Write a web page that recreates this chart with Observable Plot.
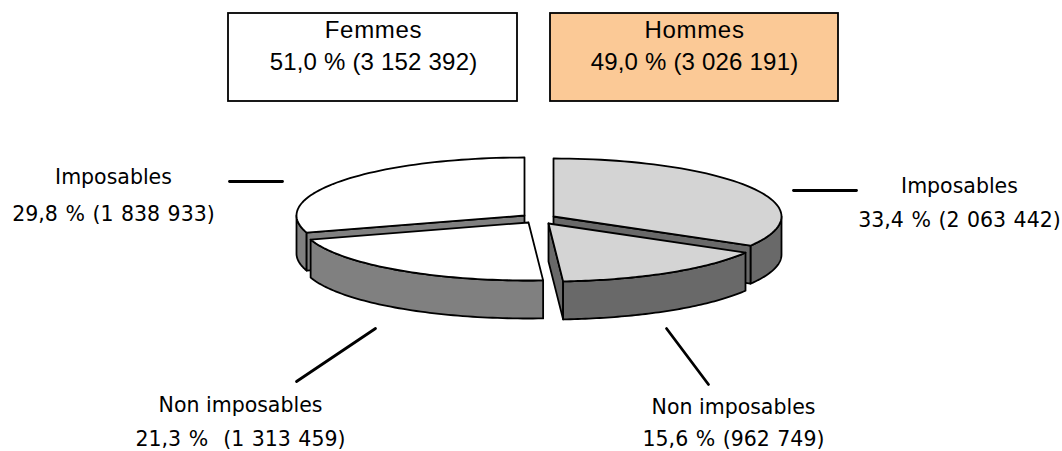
<!DOCTYPE html>
<html><head><meta charset="utf-8">
<script src="https://cdn.jsdelivr.net/npm/d3@7"></script>
<script src="https://cdn.jsdelivr.net/npm/@observablehq/plot@0.6"></script>
<style>html,body{margin:0;padding:0;background:#fff}svg{display:block}
.box-title{letter-spacing:.7px}
.box-value{letter-spacing:.2px}
.label-value{word-spacing:1px}
</style>
</head><body><div id="chart"></div>
<script>
// Data
const sliceNames = ["Hommes imposables","Hommes non imposables","Femmes non imposables","Femmes imposables"];
const sliceCounts = [2063442, 962749, 1313459, 1838933];
const boxTitles = ["Femmes","Hommes"];
const boxValues = ["51,0 % (3 152 392)","49,0 % (3 026 191)"];
const labelNames = ["Imposables","Imposables","Non imposables","Non imposables"];
const labelValues = ["33,4 % (2 063 442)","29,8 % (1 838 933)","21,3 %  (1 313 459)","15,6 % (962 749)"];

// Layout
const rx = 228, ry = 58, depth = 38;
const centers = [[553,216],[548,223],[528,222],[524,215]];
const topColors = ["#d4d4d4","#d4d4d4","#ffffff","#ffffff"];
const wallColors = ["#696969","#696969","#808080","#808080"];
const boxRects = [[228,13,517,101,"#ffffff"],[550,13,838,101,"#fbc996"]];
const boxTextX = [373,694], boxTextY = [30,62];
const labelPos = [[959,186,220],[113,177,214],[240,405,439],[733,407,439]];
const leaders = [[793,190,856,190],[229,181,282,181],[296,381,375,328],[708,384,666,328]];

// Slice geometry from the values
const total = d3.sum(sliceCounts);
const cum = d3.cumsum(sliceCounts);
const angles = sliceCounts.map((_, i) => [(i ? cum[i-1] : 0)/total*2*Math.PI, cum[i]/total*2*Math.PI]);
const pt = (c, a, dz=0) => ({x: c[0] + rx*Math.sin(a), y: c[1] - ry*Math.cos(a) + dz});
const arc = (c, a0, a1, dz=0) => d3.range(0, 61).map(k => pt(c, a0 + (a1-a0)*k/60, dz));
const apex = (c, dz=0) => ({x:c[0], y:c[1]+dz});
const closed = p => [...p, p[0]];
const topFace = i => closed([apex(centers[i]), ...arc(centers[i], ...angles[i])]);
const outerWall = (i, a0, a1) => closed([...arc(centers[i], a0, a1), ...arc(centers[i], a1, a0, depth)]);
const cutFace = (i, a) => closed([apex(centers[i]), pt(centers[i], a), pt(centers[i], a, depth), apex(centers[i], depth)]);

const poly = (data, fill) => Plot.line(data, {x:"x", y:"y", fill, stroke:"#000", strokeWidth:1.8, strokeLinejoin:"round", curve:"linear"});
const PI = Math.PI;
const sliceMarks = [
  // Hommes imposables
  poly(outerWall(0, PI/2, angles[0][1]), wallColors[0]),
  poly(cutFace(0, angles[0][1]), wallColors[0]),
  poly(topFace(0), topColors[0]),
  // Hommes non imposables
  poly(cutFace(1, angles[1][1]), wallColors[1]),
  poly(outerWall(1, angles[1][0], angles[1][1]), wallColors[1]),
  poly(topFace(1), topColors[1]),
  // Femmes imposables
  poly(outerWall(3, angles[3][0], 1.5*PI), wallColors[3]),
  poly(cutFace(3, angles[3][0]), wallColors[3]),
  poly(topFace(3), topColors[3]),
  // Femmes non imposables
  poly(outerWall(2, angles[2][0], angles[2][1]), wallColors[2]),
  poly(topFace(2), topColors[2])
];

const boxFont = {fontFamily:"Liberation Sans, Arial, sans-serif", fontSize:24, fill:"#000", textAnchor:"middle", lineAnchor:"middle"};
const labelFont = {fontFamily:"DejaVu Sans, Verdana, sans-serif", fontSize:20.5, fill:"#000", textAnchor:"middle", lineAnchor:"middle"};

const chart = Plot.plot({
  width:1062, height:451, margin:0,
  x:{domain:[0,1062], range:[0,1062], axis:null},
  y:{domain:[0,451], range:[0,451], axis:null},
  style:{background:"#fff"},
  marks:[
    Plot.rect(boxRects, {x1:d=>d[0], y1:d=>d[1], x2:d=>d[2], y2:d=>d[3], fill:d=>d[4], stroke:"#000", strokeWidth:1.8}),
    Plot.text(boxTitles, {x:(d,i)=>boxTextX[i], y:()=>boxTextY[0], text:d=>d, className:"box-title", ...boxFont}),
    Plot.text(boxValues, {x:(d,i)=>boxTextX[i], y:()=>boxTextY[1], text:d=>d, className:"box-value", ...boxFont}),
    ...sliceMarks,
    ...leaders.map(l => Plot.line([[l[0],l[1]],[l[2],l[3]]], {x:d=>d[0], y:d=>d[1], stroke:"#000", strokeWidth:2.8})),
    Plot.text(labelNames, {x:(d,i)=>labelPos[i][0], y:(d,i)=>labelPos[i][1], text:d=>d, ...labelFont}),
    Plot.text(labelValues, {x:(d,i)=>labelPos[i][0], y:(d,i)=>labelPos[i][2], text:d=>d, className:"label-value", ...labelFont})
  ]
});
document.getElementById("chart").append(chart);
</script></body></html>
